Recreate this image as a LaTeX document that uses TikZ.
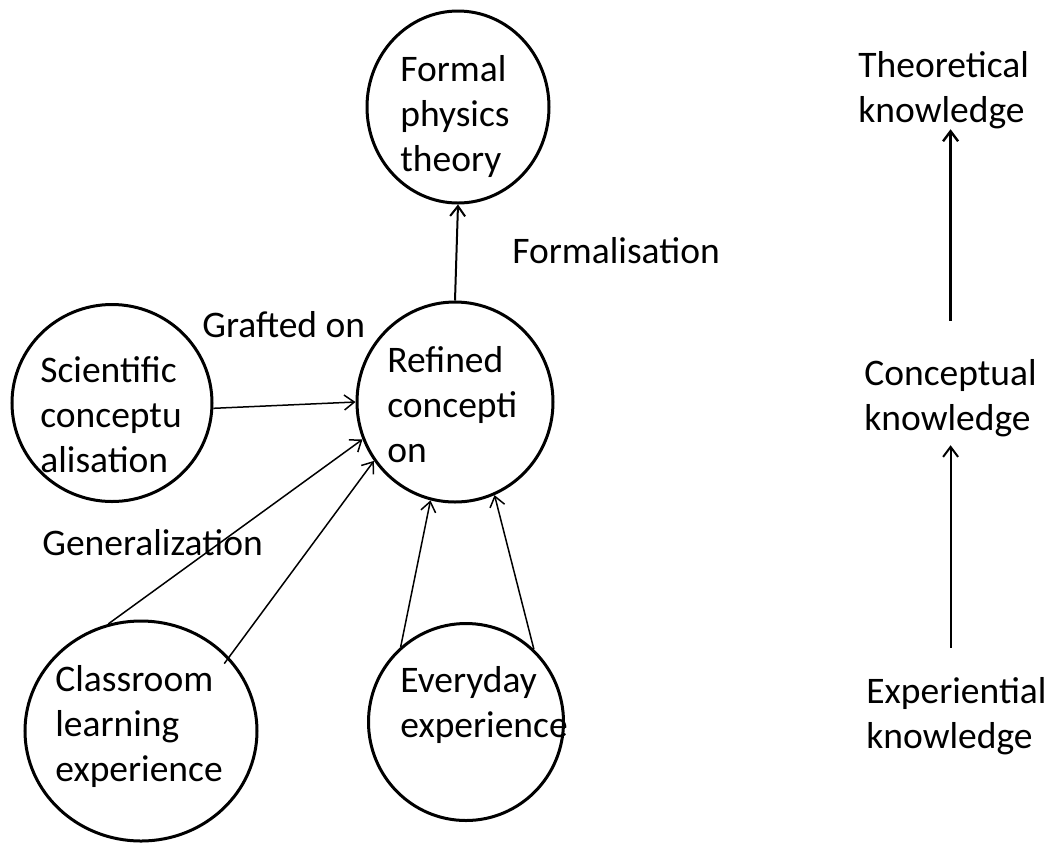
\documentclass[tikz,border=0pt]{standalone}
\usepackage{fontspec}
\setmainfont{Carlito}
\usetikzlibrary{shapes.geometric,arrows.meta}
\tikzset{
    concept-circle/.style = {draw=black, ellipse, line width=1.5pt, inner sep=0pt},
    concept-text/.style = {anchor=north west, inner sep=0pt, align=left, font=\fontsize{18.75}{22.5}\selectfont},
    edge-label/.style = {anchor=base west, inner sep=0pt, font=\fontsize{18.75}{22.5}\selectfont},
    thin-arrow/.style = {-{Straight Barb[length=5pt, width=7.5pt]}, line width=0.75pt},
    level-arrow/.style = {-{Straight Barb[length=5pt, width=7.5pt]}, line width=1.2pt},
}

\begin{document}
\begin{tikzpicture}[x=0.5pt, y=-0.5pt]
\useasboundingbox (0,0) rectangle (1057,843);

\node [concept-circle, minimum width=91pt, minimum height=96pt] (formal) at (458,107) {};
\node [concept-circle, minimum width=98pt, minimum height=100pt] (refined) at (455,402) {};
\node [concept-circle, minimum width=100pt, minimum height=98.5pt] (sci) at (112,403) {};
\node [concept-circle, minimum width=116pt, minimum height=110pt] (class) at (141,731) {};
\node [concept-circle, minimum width=97.5pt, minimum height=98.5pt] (every) at (466,722) {};

\node [concept-text] (formal-text) at (400,49.5) {\strut Formal\\physics\\theory};
\node [concept-text] (refined-text) at (387,340.5) {\strut Refined\\concepti\\on};
\node [concept-text] (sci-text) at (40,350.5) {\strut Scientific\\conceptu\\alisation};
\node [concept-text] (class-text) at (55,659.5) {\strut Classroom\\learning\\experience};
\node [concept-text] (every-text) at (400,660.5) {\strut Everyday\\experience};

\node [edge-label] (grafted) at (202,337) {Grafted on};
\node [edge-label] (formalisation) at (512,263) {Formalisation};
\node [edge-label] (generalization) at (42,555) {Generalization};

\node [concept-text] (theo) at (858,45.5) {\strut Theoretical\\knowledge};
\node [concept-text] (conc) at (864,353.5) {\strut Conceptual\\knowledge};
\node [concept-text] (exp) at (866,671.5) {\strut Experiential\\knowledge};

\draw [thin-arrow, line width=1pt] (refined.north) -- (formal.south);
\draw [thin-arrow] (sci.-3) -- (refined.180);
\draw [thin-arrow] (class.107) -- (refined.202);
\draw [thin-arrow, shorten <=-4pt] (class.40) -- (refined.216);
\draw [thin-arrow] (every.131) -- (refined.256);
\draw [thin-arrow] (every.47) -- (refined.293);

\draw [level-arrow, shorten <=16.5pt] (conc.north) -- (conc.north |- theo.south);
\draw [level-arrow, line width=1pt, shorten <=12pt, shorten >=4pt] (conc.south |- exp.north) -- (conc.south);
\end{tikzpicture}
\end{document}
